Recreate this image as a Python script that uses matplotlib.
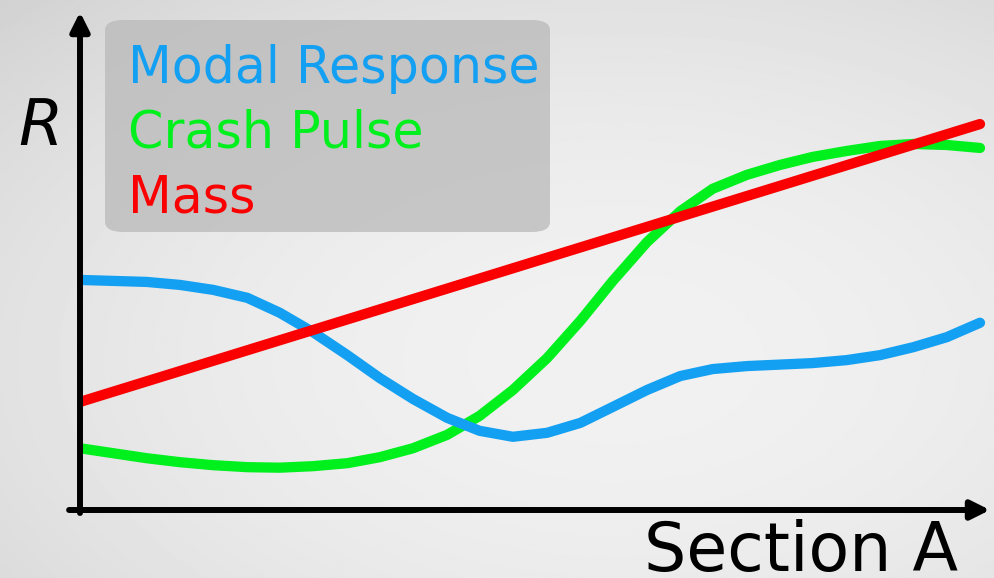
import numpy as np
import matplotlib
matplotlib.use("Agg")
import matplotlib.pyplot as plt
from matplotlib.patches import FancyBboxPatch

# ---- data (x = position along Section A, y = R) ----
xs = [0, 3.7, 7.4, 11.1, 14.8, 18.6, 22.2, 25.9, 29.7, 33.3, 37.0, 40.8, 44.4, 48.1,
      51.9, 55.6, 59.2, 63.0, 66.7, 70.3, 74.1, 77.8, 81.4, 85.2, 88.9, 92.6, 96.3, 100.0]

modal_y = [46.2, 46.0, 45.8, 45.2, 44.2, 42.6, 39.6, 35.7, 31.1, 26.5, 22.3, 18.5,
           15.9, 14.7, 15.5, 17.5, 20.7, 24.1, 26.9, 28.3, 28.9, 29.2, 29.5, 30.1,
           31.1, 32.7, 34.7, 37.6]

crash_y = [12.4, 11.4, 10.4, 9.6, 9.0, 8.6, 8.5, 8.8, 9.4, 10.6, 12.4, 15.1,
           18.9, 24.1, 30.5, 38.0, 46.0, 53.8, 60.0, 64.5, 67.3, 69.3, 70.9, 72.1,
           73.1, 73.5, 73.3, 72.7]

mass_x = [0, 100.0]
mass_y = [21.7, 77.5]

labels = ["Modal Response", "Crash Pulse", "Mass"]
colors = ["#14a0f2", "#00f01e", "#fa0000"]
xlabel = "Section A"
ylabel = "R"

W, H = 994, 578
fig = plt.figure(figsize=(W / 100, H / 100), dpi=100)

# background gradient
bg = fig.add_axes([0, 0, 1, 1])
yy, xx = np.mgrid[0:1:300j, 0:1:500j]
r = np.sqrt(((xx - 0.62) / 0.75) ** 2 + ((yy - 0.62) / 0.75) ** 2)
bg.imshow(0.945 - 0.09 * r ** 2, cmap="gray", vmin=0, vmax=1,
          extent=[0, 1, 0, 1], aspect="auto", origin="upper")
bg.set_axis_off()

# main axes
px0, py0, px1, py1 = 80, 510, 990, 12
ax = fig.add_axes([px0 / W, 1 - py0 / H, (px1 - px0) / W, (py0 - py1) / H])
ax.set_xlim(0, (px1 - px0) / 9.0)
ax.set_ylim(0, (py0 - py1) / 4.98)
ax.patch.set_alpha(0)
for s in ax.spines.values():
    s.set_visible(False)
ax.set_xticks([])
ax.set_yticks([])

lw = 7.4
ax.plot(mass_x, mass_y, color=colors[2], lw=lw, solid_capstyle="round", zorder=3)
ax.plot(xs, crash_y, color=colors[1], lw=lw, solid_capstyle="round",
        solid_joinstyle="round", zorder=2)
ax.plot(xs, modal_y, color=colors[0], lw=lw, solid_capstyle="round",
        solid_joinstyle="round", zorder=2)

# axis arrows
arrow = dict(arrowstyle="-|>", lw=4.3, color="black", mutation_scale=28,
             shrinkA=0, shrinkB=0)
ax.annotate("", xy=(1.0, 0), xytext=(-0.012, 0), xycoords="axes fraction",
            arrowprops=arrow, annotation_clip=False)
ax.annotate("", xy=(0, 1.0), xytext=(0, -0.006), xycoords="axes fraction",
            arrowprops=arrow, annotation_clip=False)

# legend box
box = FancyBboxPatch((105 / W, 1 - 232 / H), (550 - 105) / W, (232 - 20) / H,
                     boxstyle="round,pad=0,rounding_size=0.018",
                     transform=fig.transFigure, facecolor="#b9b9b9",
                     edgecolor="none", alpha=0.75, zorder=5)
fig.add_artist(box)
for i, (lab, c) in enumerate(zip(labels, colors)):
    fig.text(128 / W, 1 - (83 + 64.5 * i) / H, lab, color=c, fontsize=36.5,
             family="DejaVu Sans", va="baseline", ha="left", zorder=6)

fig.text(18 / W, 1 - 145 / H, ylabel, fontsize=46, style="italic",
         family="DejaVu Sans", va="baseline", ha="left")
fig.text(958 / W, 1 - 571 / H, xlabel, fontsize=48, family="DejaVu Sans",
         va="baseline", ha="right")

fig.savefig("out.png", dpi=100)
